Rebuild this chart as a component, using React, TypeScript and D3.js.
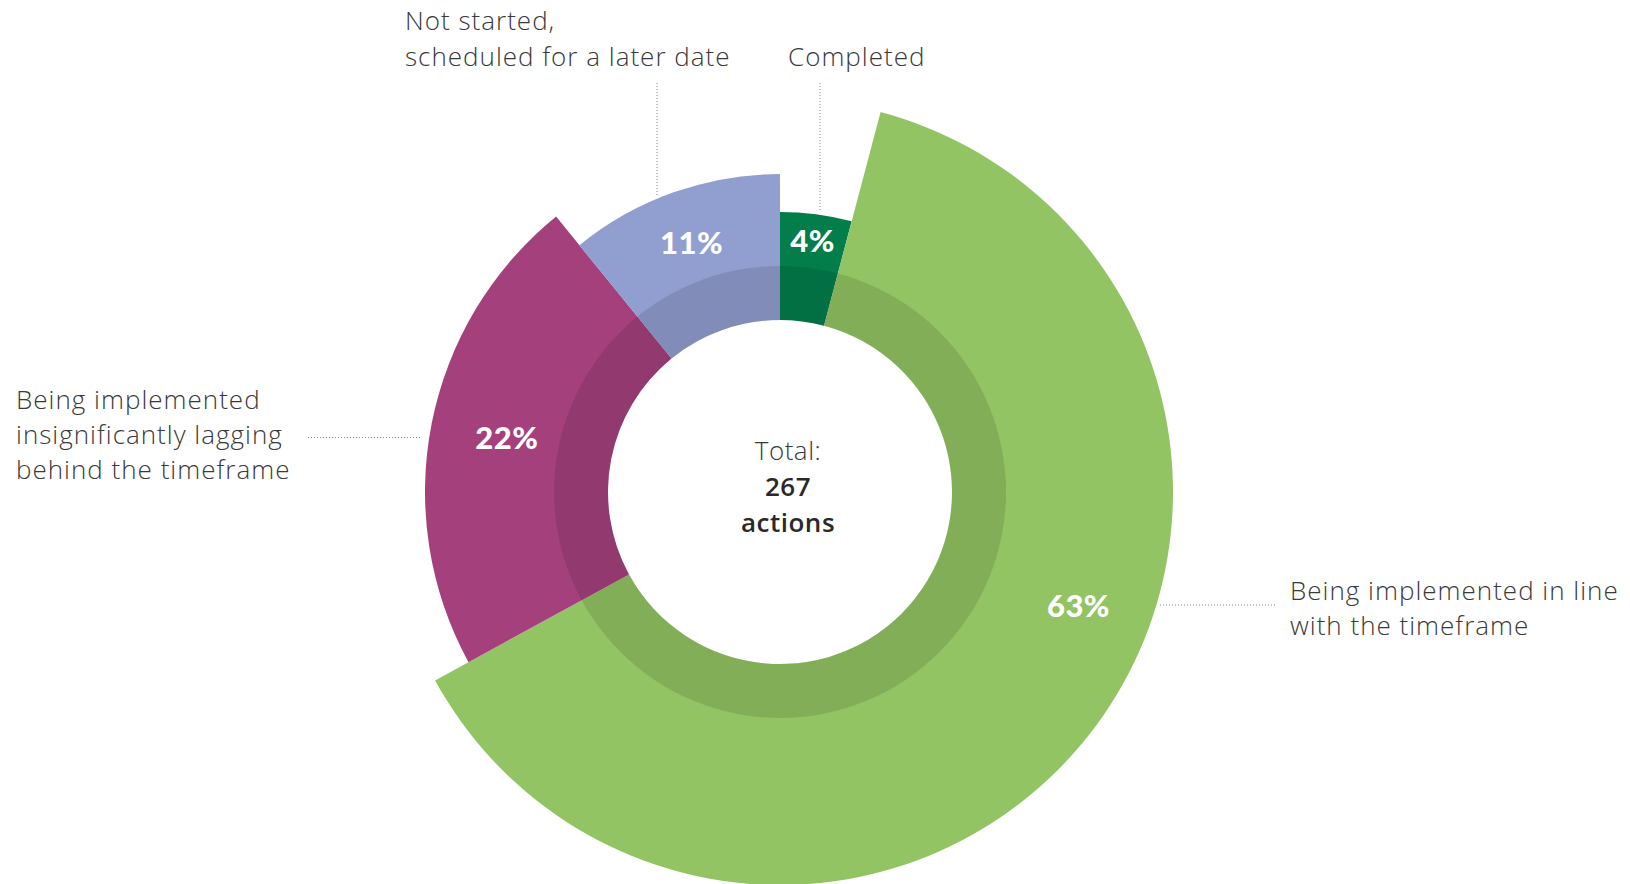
import React from "react";
import * as d3 from "d3";

// action counts per status (total 267), clockwise from 12 o'clock
const categories = [
  "Completed",
  "Being implemented in line with the timeframe",
  "Being implemented insignificantly lagging behind the timeframe",
  "Not started, scheduled for a later date",
];
const counts = [11, 168, 59, 29];
const percentLabels = ["4%", "63%", "22%", "11%"];
// relative outer size of each slice (reads off the picture)
const outerSize = [280, 393, 355, 318];
const colors = ["#037E4B", "#93C463", "#A4417D", "#919ED0"];
const totalLabel = ["Total:", "267", "actions"];

const W = 1630;
const H = 884;
const cx = 780;
const cy = 492;
const innerR = 172;
const ringR = 226;

const FONT = "Lato, 'Open Sans', sans-serif";
const LABEL_FONT = "'Open Sans', Lato, sans-serif";
const TEXT = "#3a3a3a";

const App = () => {
  const pie = d3
    .pie<number>()
    .sort(null)
    .value((d) => d)
    .startAngle(0)
    .endAngle(2 * Math.PI);
  const arcs = pie(counts);

  const rScale = d3.scaleLinear().domain([0, 1]).range([0, 1]);

  const arcGen = d3.arc<any>().innerRadius(innerR);
  const ringArc = d3
    .arc<any>()
    .innerRadius(innerR)
    .outerRadius(ringR)
    .startAngle(0)
    .endAngle(2 * Math.PI);

  // label placement: angle tweak for the big slice
  const labelAngleShift = [0, -0.3, 0, 0];
  const labelRadiusShift = [0, 10, -12, -8];

  const labelPos = (i: number) => {
    const a = arcs[i];
    const ang = (a.startAngle + a.endAngle) / 2 + labelAngleShift[i];
    const r = (ringR + rScale(outerSize[i])) / 2 + labelRadiusShift[i];
    return [Math.sin(ang) * r, -Math.cos(ang) * r];
  };

  return (
    <svg
      width={W}
      height={H}
      style={{ position: "absolute", left: 0, top: 0, background: "#fff" }}
    >
      <g transform={`translate(${cx},${cy})`}>
        {arcs.map((a, i) => (
          <path
            key={categories[i]}
            d={arcGen.outerRadius(rScale(outerSize[i]))(a) as string}
            fill={colors[i]}
          />
        ))}
        {/* darker inner band */}
        <path d={ringArc(null) as string} fill="#000" fillOpacity={0.11} />

        {arcs.map((a, i) => {
          const [x, y] = labelPos(i);
          return (
            <text
              key={"p" + i}
              x={x}
              y={y}
              dy="0.35em"
              textAnchor="middle"
              fill="#fff"
              fontFamily={FONT}
              fontWeight={900}
              fontSize={31}
              letterSpacing={0.5}
            >
              {percentLabels[i]}
            </text>
          );
        })}

        {totalLabel.map((t, i) => (
          <text
            key={t}
            x={8}
            y={-32 + i * 36}
            textAnchor="middle"
            fill={i === 0 ? "#3a3a3a" : "#2a2a2a"}
            fontFamily={LABEL_FONT}
            fontWeight={i === 0 ? 300 : 600}
            fontSize={26}
            letterSpacing={0.5}
          >
            {t}
          </text>
        ))}
      </g>

      {/* leader lines */}
      <g stroke="#888" strokeWidth={1} strokeDasharray="1 2" fill="none">
        <line x1={657} y1={83} x2={657} y2={197} />
        <line x1={820} y1={83} x2={820} y2={212} />
        <line x1={308} y1={437.5} x2={422} y2={437.5} />
        <line x1={1160} y1={605} x2={1277} y2={605} />
      </g>

      <g
        fontFamily={LABEL_FONT}
        fontSize={26}
        fontWeight={300}
        letterSpacing={1}
        fill={TEXT}
      >
        <text>
          <tspan x={405} y={30}>Not started,</tspan>
          <tspan x={405} y={65.5}>scheduled for a later date</tspan>
        </text>
        <text x={788} y={65.5}>Completed</text>
        <text>
          <tspan x={16} y={408.5}>Being implemented</tspan>
          <tspan x={16} y={444}>insignificantly lagging</tspan>
          <tspan x={16} y={479}>behind the timeframe</tspan>
        </text>
        <text>
          <tspan x={1290} y={600}>Being implemented in line</tspan>
          <tspan x={1290} y={635}>with the timeframe</tspan>
        </text>
      </g>
    </svg>
  );
};

export default App;
